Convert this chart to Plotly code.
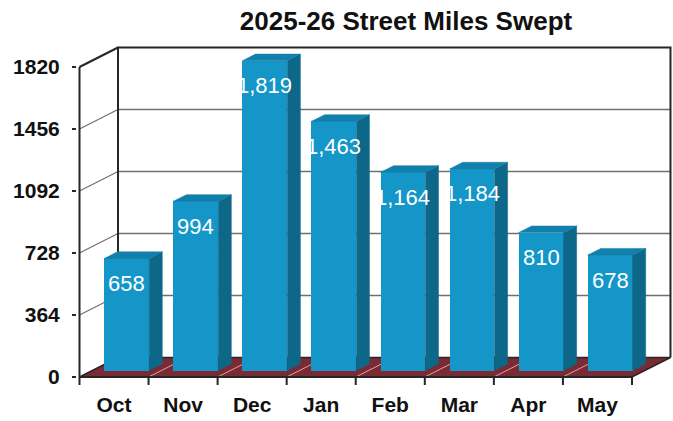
import plotly.graph_objects as go

# Monthly street miles swept, fiscal 2025-26
months = ["Oct", "Nov", "Dec", "Jan", "Feb", "Mar", "Apr", "May"]
miles = [658, 994, 1819, 1463, 1164, 1184, 810, 678]
y_ticks = [0, 364, 728, 1092, 1456, 1820]

# Colours
FRONT = "#1497c8"
SIDE = "#0d6789"
TOP = "#137fab"
FLOOR = "#7a2a33"
EDGE = "#262626"
GRID = "#707070"

# Pseudo-3D box depth in axis units (x: categories, y: miles)
DX = 0.5575
DY = 114.5
F1, F2 = 0.33, 0.67      # bar front/back position within the box depth
W = 0.65                  # bar width in category units
n = len(months)
x_left, x_right = -0.5, n - 0.5
y_top = y_ticks[-1]

fig = go.Figure()

# Front faces of the bars
xf = [i + F1 * DX for i in range(n)]
fig.add_trace(go.Bar(
    x=xf, y=miles, base=F1 * DY, width=W,
    marker=dict(color=FRONT, line=dict(width=0)),
    hoverinfo="skip", showlegend=False,
))

# Right-hand side faces and top faces, built from the same values
sx, sy, tx, ty = [], [], [], []
for i, v in enumerate(miles):
    r1 = i + F1 * DX + W / 2
    r2 = i + F2 * DX + W / 2
    l1 = i + F1 * DX - W / 2
    l2 = i + F2 * DX - W / 2
    sx += [r1, r1, r2, r2, r1, None]
    sy += [F1 * DY, v + F1 * DY, v + F2 * DY, F2 * DY, F1 * DY, None]
    tx += [l1, r1, r2, l2, l1, None]
    ty += [v + F1 * DY, v + F1 * DY, v + F2 * DY, v + F2 * DY, v + F1 * DY, None]

fig.add_trace(go.Scatter(x=sx, y=sy, mode="lines", fill="toself",
                         fillcolor=SIDE, line=dict(color=SIDE, width=0.5),
                         hoverinfo="skip", showlegend=False))
fig.add_trace(go.Scatter(x=tx, y=ty, mode="lines", fill="toself",
                         fillcolor=TOP, line=dict(color=TOP, width=0.5),
                         hoverinfo="skip", showlegend=False))

# Box: back wall, left wall lines, floor and front axes
shapes = []
for v in y_ticks[1:-1]:
    shapes.append(dict(type="line", layer="below", xref="x", yref="y",
                       x0=x_left + DX, y0=v + DY, x1=x_right + DX, y1=v + DY,
                       line=dict(color=GRID, width=1.6)))
    shapes.append(dict(type="line", layer="below", xref="x", yref="y",
                       x0=x_left, y0=v, x1=x_left + DX, y1=v + DY,
                       line=dict(color=GRID, width=1.2)))
# back wall outline
shapes.append(dict(type="path", layer="below", xref="x", yref="y",
                   path=f"M {x_left+DX},{DY} L {x_left+DX},{y_top+DY} "
                        f"L {x_right+DX},{y_top+DY} L {x_right+DX},{DY}",
                   line=dict(color=EDGE, width=2)))
# left wall top edge
shapes.append(dict(type="line", layer="below", xref="x", yref="y",
                   x0=x_left, y0=y_top, x1=x_left + DX, y1=y_top + DY,
                   line=dict(color=EDGE, width=2)))
# floor
shapes.append(dict(type="path", layer="below", xref="x", yref="y",
                   path=f"M {x_left},0 L {x_right},0 L {x_right+DX},{DY} "
                        f"L {x_left+DX},{DY} Z",
                   fillcolor=FLOOR, line=dict(color=EDGE, width=1.5)))
for k in range(1, n):
    b = k - 0.5
    shapes.append(dict(type="line", layer="below", xref="x", yref="y",
                       x0=b, y0=0, x1=b + DX, y1=DY,
                       line=dict(color="rgba(240,190,200,0.8)", width=1)))
# front floor edge and front vertical axis
shapes.append(dict(type="line", layer="below", xref="x", yref="y",
                   x0=x_left, y0=0, x1=x_right, y1=0,
                   line=dict(color=EDGE, width=2.2)))
shapes.append(dict(type="line", layer="below", xref="x", yref="y",
                   x0=x_left, y0=0, x1=x_left, y1=y_top,
                   line=dict(color=EDGE, width=2)))
# category tick marks below the floor
for k in range(n + 1):
    shapes.append(dict(type="line", layer="above", xref="x", yref="y",
                       ysizemode="pixel", yanchor=0,
                       x0=k - 0.5, x1=k - 0.5, y0=0, y1=-8,
                       line=dict(color=EDGE, width=2)))

# Value labels inside the top of each front face
annotations = [
    dict(x=xf[i], y=v + F1 * DY, xref="x", yref="y", text=f"{v:,}",
         showarrow=False, yshift=-25, xanchor="center", yanchor="middle",
         font=dict(family="Liberation Sans, Arial, sans-serif", size=22,
                   color="white"))
    for i, v in enumerate(miles)
]

# Axis ranges chosen so 69.06 px per category and 310 px per 1820 miles
PX_X = 69.06
PX_Y = 310 / 1820
L, R, T, B = 77, 0, 40, 35
plot_w = 673 - L - R
plot_h = 421 - T - B
x_lo = x_left - (79.5 - L) / PX_X
x_hi = x_lo + plot_w / PX_X
y_lo = -(421 - B - 377) / PX_Y
y_hi = y_lo + plot_h / PX_Y

fig.update_layout(
    width=673, height=421,
    margin=dict(l=L, r=R, t=T, b=B),
    paper_bgcolor="white", plot_bgcolor="rgba(0,0,0,0)",
    bargap=0,
    shapes=shapes,
    annotations=annotations,
    title=dict(text="<b>2025-26 Street Miles Swept</b>",
               x=406 / 673, xanchor="center", y=1 - 21 / 421, yanchor="middle",
               font=dict(family="Liberation Sans, Arial, sans-serif",
                         size=26, color="#111")),
    xaxis=dict(range=[x_lo, x_hi], tickmode="array",
               tickvals=list(range(n)), ticktext=months,
               showgrid=False, zeroline=False, showline=False, ticks="",
               ticklabelstandoff=4,
               tickfont=dict(family="Liberation Sans, Arial, sans-serif",
                             size=21, color="#111", weight="bold")),
    yaxis=dict(range=[y_lo, y_hi], tickmode="array", tickvals=y_ticks,
               ticktext=[str(t) for t in y_ticks],
               showgrid=False, zeroline=False, showline=False,
               ticks="outside", ticklen=4, tickwidth=1.5, tickcolor=EDGE,
               ticklabelstandoff=8,
               tickfont=dict(family="Liberation Sans, Arial, sans-serif",
                             size=21, color="#111", weight="bold")),
)

fig.write_html("out.html")
